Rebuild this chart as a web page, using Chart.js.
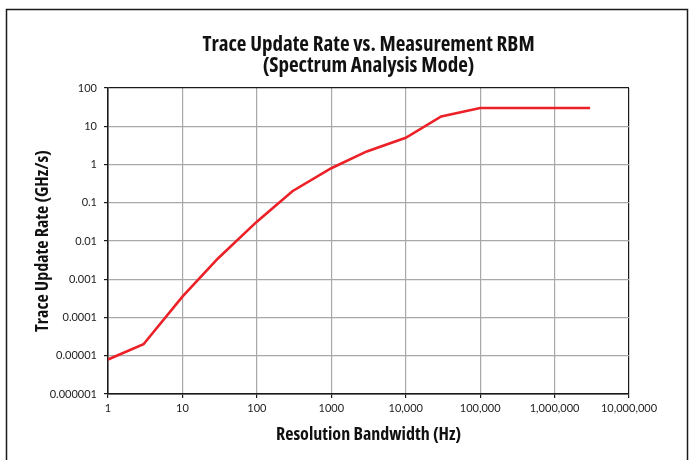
<!DOCTYPE html>
<html>
<head>
<meta charset="utf-8">
<script src="https://cdn.jsdelivr.net/npm/chart.js@4/dist/chart.umd.min.js"></script>
<style>
  html, body { margin: 0; padding: 0; background: #fff; }
  #wrap { width: 690px; height: 460px; }
</style>
</head>
<body>
<div id="wrap"><canvas id="canva" width="690" height="460"></canvas></div>
<script>
const titleLines = ['Trace Update Rate vs. Measurement RBM', '(Spectrum Analysis Mode)'];
const xTitle = 'Resolution Bandwidth (Hz)';
const yTitle = 'Trace Update Rate (GHz/s)';

// resolution bandwidth (Hz) and trace update rate (GHz/s)
const rbwHz = [1, 3, 10, 30, 100, 300, 1000, 3000, 10000, 30000, 100000, 1000000, 3000000];
const updateRate = [0.000008, 0.00002, 0.00035, 0.0035, 0.032, 0.2, 0.8, 2.2, 5, 18, 30, 30, 30];

const xTickValues = [1, 10, 100, 1000, 10000, 100000, 1000000, 10000000];
const xTickLabels = ['1', '10', '100', '1000', '10,000', '100,000', '1,000,000', '10,000,000'];
const yTickValues = [0.000001, 0.00001, 0.0001, 0.001, 0.01, 0.1, 1, 10, 100];
const yTickLabels = ['0.000001', '0.00001', '0.0001', '0.001', '0.01', '0.1', '1', '10', '100'];

const headFont = '"Open Sans", sans-serif';
const tickFont = { family: 'Lato, "Open Sans", sans-serif', size: 11 };

const edgeColor = (ctx) => {
    const n = ctx.scale.ticks.length;
    return (ctx.index === 0 || ctx.index === n - 1) ? '#1a1a1a' : '#a8a8a8';
};

// outer frame, chart title and axis titles (condensed bold like the original)
const framePlugin = {
    id: 'frame',
    beforeDraw(chart) {
        const c = chart.ctx;
        c.save();
        c.fillStyle = '#fff';
        c.fillRect(0, 0, chart.width, chart.height);
        c.strokeStyle = '#1a1a1a';
        c.lineWidth = 1.5;
        c.strokeRect(6.5, 9.5, 681, 470);
        c.restore();
    },
    afterDraw(chart) {
        const c = chart.ctx;
        const a = chart.chartArea;
        const cx = (a.left + a.right) / 2;
        c.save();
        c.fillStyle = '#111';
        c.textAlign = 'center';
        c.textBaseline = 'middle';
        c.font = 'bold 21px ' + headFont;
        c.fontStretch = 'condensed';
        c.fillText(titleLines[0], cx, 45);
        c.fillText(titleLines[1], cx, 66);

        c.font = 'bold 18px ' + headFont;
        c.fontStretch = 'condensed';
        c.fillText(xTitle, cx, 435);

        c.translate(43, (a.top + a.bottom) / 2);
        c.rotate(-Math.PI / 2);
        c.fillText(yTitle, 0, 0);
        c.restore();
    }
};

let chart = new Chart(document.querySelector('#canva').getContext('2d'), {
    type: 'line',
    data: {
        datasets: [{
            data: rbwHz.map((x, i) => ({ x: x, y: updateRate[i] })),
            borderColor: '#ec2027',
            borderWidth: 2.6,
            pointRadius: 0,
            tension: 0,
            fill: false,
        }],
    },
    options: {
        responsive: false,
        animation: false,
        layout: { padding: { top: 88, right: 61, left: 0, bottom: 0 } },
        plugins: {
            legend: { display: false },
            title: { display: false },
            tooltip: { enabled: false },
        },
        scales: {
            x: {
                type: 'logarithmic',
                min: 1,
                max: 10000000,
                afterBuildTicks: (scale) => { scale.ticks = xTickValues.map((v) => ({ value: v })); },
                afterFit: (scale) => { scale.height = 66; },
                ticks: {
                    autoSkip: false,
                    maxRotation: 0,
                    color: '#222',
                    font: tickFont,
                    padding: 4,
                    callback: (value, index) => xTickLabels[index],
                },
                grid: { color: edgeColor, tickColor: '#1a1a1a', tickLength: 4, lineWidth: 1.2 },
                border: { display: true, color: '#1a1a1a', width: 1.5 },
            },
            y: {
                type: 'logarithmic',
                min: 0.000001,
                max: 100,
                afterBuildTicks: (scale) => { scale.ticks = yTickValues.map((v) => ({ value: v })); },
                afterFit: (scale) => { scale.width = 108; },
                ticks: {
                    autoSkip: false,
                    color: '#222',
                    font: tickFont,
                    padding: 7,
                    callback: (value, index) => yTickLabels[index],
                },
                grid: { color: edgeColor, tickColor: '#1a1a1a', tickLength: 4, lineWidth: 1.2 },
                border: { display: true, color: '#1a1a1a', width: 1.5 },
            },
        },
    },
    plugins: [framePlugin],
});
</script>
</body>
</html>
